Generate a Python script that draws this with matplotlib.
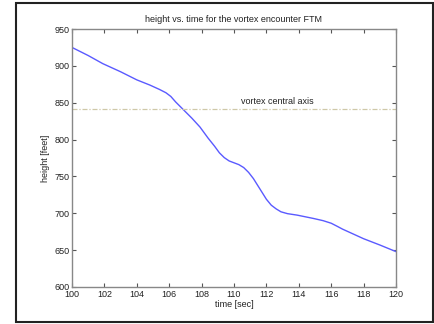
import matplotlib
matplotlib.use('Agg')
import matplotlib.pyplot as plt
from matplotlib.patches import Rectangle

plt.rcParams['font.family'] = ['Liberation Sans', 'DejaVu Sans']

# height vs time
time_sec = [100, 101, 101.9, 103, 104, 104.8, 105.4, 105.8, 106.1, 106.4,
            106.9, 107.4, 107.9, 108.4, 108.8, 109.1, 109.4, 109.7, 110.0,
            110.3, 110.6, 110.9, 111.2, 111.6, 112.0, 112.3, 112.6, 112.9,
            113.3, 113.9, 114.9, 115.5, 116.0, 116.4, 116.7, 118.0, 119.0, 120]
height_ft = [925, 914, 903, 892, 881, 874, 868, 863.5, 858.5, 851,
             840, 829, 817, 802, 791, 782, 775.5, 771, 768.5,
             766, 762, 755.5, 747, 733, 719, 711, 706, 702,
             699.5, 697.5, 693, 690, 686.5, 682, 678.5, 665.5, 657, 648]
axis_height = 842
axis_label = 'vortex central axis'
xticks = list(range(100, 121, 2))
yticks = list(range(600, 951, 50))

W, H = 435, 324
fig = plt.figure(figsize=(W / 100, H / 100), dpi=100)
fig.patch.set_facecolor('white')
fig.add_artist(Rectangle((16 / W, 1 - 322 / H), (433 - 16) / W, (322 - 3) / H,
                         transform=fig.transFigure, fill=False,
                         edgecolor='#222222', linewidth=1.5))

ax = fig.add_axes([72 / W, 1 - 287 / H, (396 - 72) / W, (287 - 29) / H])
ax.plot(time_sec, height_ft, color='#5a5aff', linewidth=1.0)
ax.plot([100, 120], [axis_height, axis_height], color='#cfc8a8',
        linestyle=(0, (4, 1.5, 1, 1.5)), linewidth=0.9)
ax.text(112.7, axis_height + 3, axis_label, ha='center', va='bottom',
        fontsize=6.5, color='#222222')

ax.set_xlim(100, 120)
ax.set_ylim(600, 950)
ax.set_xticks(xticks)
ax.set_yticks(yticks)
ax.tick_params(direction='in', top=True, right=True, length=3, width=0.8,
               labelsize=6.5, colors='#555555', labelcolor='#222222', pad=2)
for s in ax.spines.values():
    s.set_color('#888888')
    s.set_linewidth(1.0)

ax.set_title('height vs. time for the vortex encounter FTM', fontsize=6.5,
             color='#222222', pad=5)
ax.set_xlabel('time [sec]', fontsize=6.5, color='#222222', labelpad=1)
ax.set_ylabel('height [feet]', fontsize=6.5, color='#222222', labelpad=3)

fig.savefig('out.png', dpi=100)
